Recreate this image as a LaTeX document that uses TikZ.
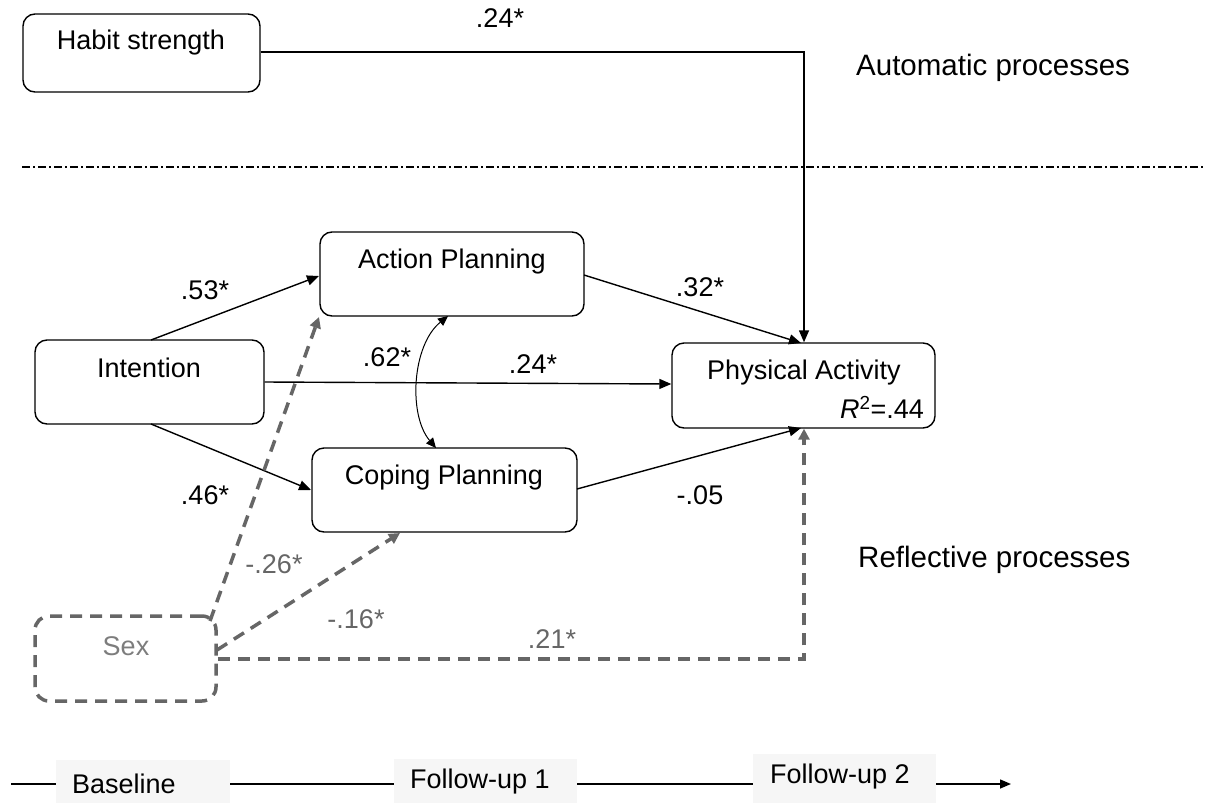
\documentclass[tikz,border=0pt]{standalone}
\usepackage{fontspec}
\setmainfont{Liberation Sans}
\usetikzlibrary{arrows.meta,calc}
\definecolor{dgray}{HTML}{666666}
\definecolor{tlfill}{HTML}{F6F6F6}
\begin{document}
\begin{tikzpicture}[x=1pt,y=-1pt,
  font=\fontsize{27}{32}\selectfont,
  box/.style={draw, line width=1.4pt, rounded corners=12pt, inner sep=0pt},
  sexbox/.style={draw=dgray, line width=3.5pt, rounded corners=14pt, inner sep=0pt, dash pattern=on 12pt off 8pt},
  txt/.style={inner sep=0pt, anchor=center},
  gtxt/.style={inner sep=0pt, anchor=center, text=dgray},
  side/.style={inner sep=0pt, anchor=west, font=\fontsize{29.5}{34}\selectfont},
  arr/.style={line width=1.4pt, -{Triangle[length=12pt,width=10pt]}},
  garr/.style={draw=dgray, line width=3.5pt, dash pattern=on 12pt off 8pt, -{Triangle[length=11pt,width=11pt]}},
  tl/.style={fill=tlfill, inner sep=0pt},
  dashdot/.style={line width=1.4pt, dash pattern=on 8pt off 3pt on 2pt off 3pt}
]
\useasboundingbox (0,0) rectangle (1206,803);

% boxes
\node[box, minimum width=237pt, minimum height=78pt] (habit) at (141.5,53) {};
\node[txt] (habitt) at (141,43) {Habit strength};

\node[box, minimum width=264pt, minimum height=84pt] (ap) at (452,274) {};
\node[txt] (apt) at (452,262) {Action Planning};

\node[box, minimum width=229pt, minimum height=84pt] (int) at (149.5,382) {};
\node[txt] (intt) at (149,368) {Intention};

\node[box, minimum width=265pt, minimum height=84pt] (cp) at (444.5,490) {};
\node[txt] (cpt) at (444,478) {Coping Planning};

\node[box, minimum width=263pt, minimum height=85pt] (pa) at (803.5,385.5) {};
\node[txt] (pat) at (804,373) {Physical Activity};
\node[inner sep=0pt, anchor=east] (r2) at (924,407) {\textit{R}\textsuperscript{2}=.44};

\node[sexbox, minimum width=181pt, minimum height=85pt] (sex) at (125.5,658.5) {};
\node[gtxt, text=dgray!85] (sext) at (126,646) {Sex};

% side labels
\node[side] (auto) at (856,68) {Automatic processes};
\node[side] (refl) at (858,560) {Reflective processes};

% separator
\coordinate (sepL) at (22,167);
\coordinate (sepR) at (1206,167);
\draw[dashdot] (sepL) -- (sepR);

% habit path
\coordinate (hcorner) at (804,52);
\draw[arr] (habit.east |- hcorner) -- (hcorner) -- (pa.north -| hcorner);
\node[txt] (l1) at (500,18) {.24*};

% intention paths
\coordinate (intT) at (151,340);
\coordinate (intB) at (151,424);
\coordinate (apL) at (319,276);
\coordinate (cpL) at (311,490);
\draw[arr] (intT) -- (apL);
\draw[arr] (intB) -- (cpL);
\draw[arr] (int.east |- 0,382) -- (pa.west |- 0,384);
\node[txt] (l53) at (205,290) {.53*};
\node[txt] (l46) at (205,495) {.46*};
\node[txt] (l24) at (533,364) {.24*};
\node[txt] (l62) at (387,357) {.62*};

% planning to PA
\coordinate (apR) at (584,275);
\coordinate (cpR) at (577,489);
\coordinate (paT) at (801,343);
\coordinate (paB) at (801,428);
\draw[arr] (apR) -- (paT);
\draw[arr] (cpR) -- (paB);
\node[txt] (l32) at (700,287) {.32*};
\node[txt] (l05) at (700,495) {-.05};

% correlation curve
\coordinate (apB) at (448,316);
\coordinate (cpT) at (436,448);
\draw[line width=1pt, {Triangle[length=10pt,width=9pt]}-{Triangle[length=10pt,width=9pt]}]
  (apB) .. controls (412,345) and (408,415) .. (cpT);

% sex paths
\coordinate (sexA) at (210,621);
\coordinate (sexB) at (217,650);
\coordinate (apBL) at (319,317);
\coordinate (cpBL) at (400,533);
\coordinate (sexC) at (804,659);
\draw[garr] (sexA) -- (apBL);
\draw[garr] (sexB) -- (cpBL);
\draw[garr] (sex.east |- sexC) -- (sexC) -- (pa.south -| sexC);
\node[gtxt] (l26) at (274,564) {-.26*};
\node[gtxt] (l16) at (356,619) {-.16*};
\node[gtxt] (l21) at (552,639) {.21*};

% timeline
\node[tl, minimum width=174pt, minimum height=43pt] (bl) at (143,781.5) {};
\node[txt] (blt) at (124,784) {Baseline};
\node[tl, minimum width=183pt, minimum height=44pt] (f1) at (485.5,781) {};
\node[txt] (f1t) at (480,782) {Follow-up 1};
\node[tl, minimum width=183pt, minimum height=49pt] (f2) at (844.5,778.5) {};
\node[txt] (f2t) at (840,777) {Follow-up 2};
\coordinate (tl0) at (11,784);
\coordinate (tlE) at (1011,784);
\draw[line width=1.4pt] (tl0) -- (bl.west |- tl0);
\draw[line width=1.4pt] (bl.east |- tl0) -- (f1.west |- tl0);
\draw[line width=1.4pt] (f1.east |- tl0) -- (f2.west |- tl0);
\draw[line width=1.4pt, -{Triangle[length=11pt,width=9pt]}] (f2.east |- tl0) -- (tlE);
\end{tikzpicture}
\end{document}
